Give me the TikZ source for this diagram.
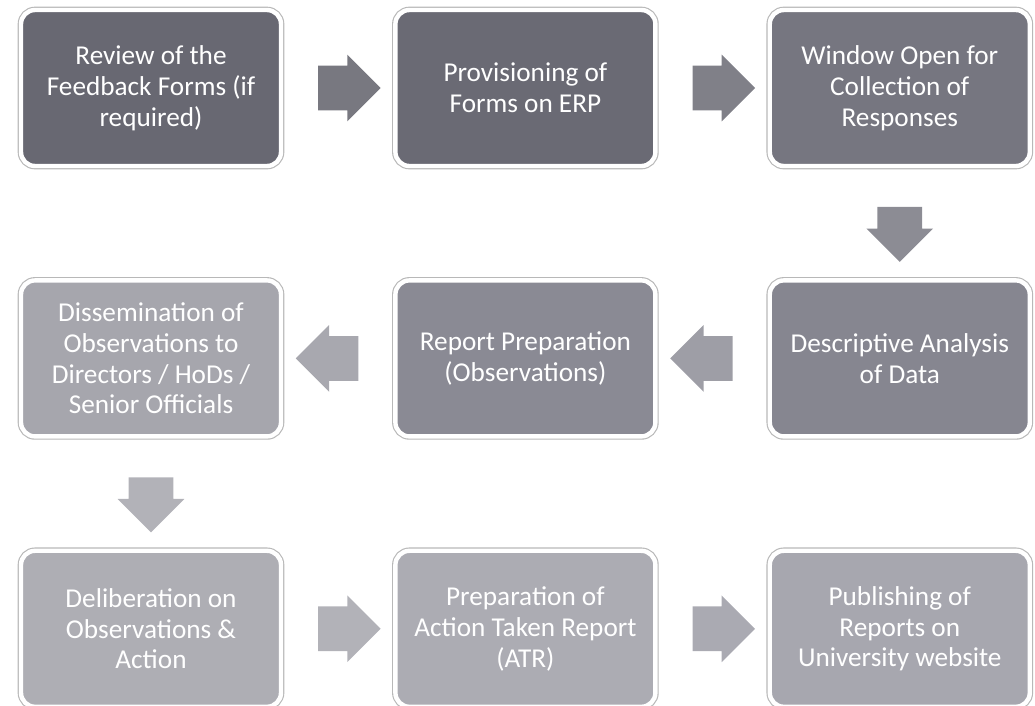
\documentclass[tikz,border=0pt]{standalone}
\usepackage{fontspec}
\setmainfont{Carlito}
\usetikzlibrary{positioning,shapes.arrows,calc}

\definecolor{c1}{RGB}{104,104,114}
\definecolor{c2}{RGB}{106,106,116}
\definecolor{c3}{RGB}{118,118,128}
\definecolor{c4}{RGB}{134,134,144}
\definecolor{c5}{RGB}{138,138,148}
\definecolor{c6}{RGB}{166,166,173}
\definecolor{c7}{RGB}{174,174,180}
\definecolor{c8}{RGB}{172,172,179}
\definecolor{c9}{RGB}{167,167,175}
\definecolor{a1}{RGB}{120,120,128}
\definecolor{a2}{RGB}{128,128,136}
\definecolor{a3}{RGB}{140,140,148}
\definecolor{a4}{RGB}{158,158,166}
\definecolor{a5}{RGB}{168,168,175}
\definecolor{a6}{RGB}{178,178,184}
\definecolor{a7}{RGB}{178,178,184}
\definecolor{a8}{RGB}{170,170,178}

\begin{document}
\begin{tikzpicture}[node distance = 2.2cm and 2.2cm]
  \tikzstyle{box}=[rounded corners=8pt, minimum width=5.2cm, minimum height=3.12cm,
                   align=center, text=white, font=\fontsize{15.5}{17.5}\selectfont,
                   draw=white, line width=2.5pt,
                   preaction={draw=black!28, line width=3.8pt}]
  \tikzstyle{arr}=[single arrow, draw=none, inner xsep=0pt, inner ysep=0.44cm,
                   single arrow head extend=0.22cm, minimum height=1.25cm]
  \tikzstyle{darr}=[arr, inner xsep=0.44cm, inner ysep=0pt, minimum height=1.1cm,
                    shape border rotate=270]
%  \tikzstyle{every node}=[draw=red]
  \useasboundingbox (0,0) rectangle (20.7,-14.1);
  % first row
  \node[box, fill=c1] (review) at (3.02,-1.76) {Review of the\\Feedback Forms (if\\required)};
  \node[box, fill=c2, right=of review] (erp) {Provisioning of\\Forms on ERP};
  \node[box, fill=c3, right=of erp] (window) {Window Open for\\Collection of\\Responses};
  % second row
  \node[box, fill=c4, below=of window] (analysis) {Descriptive Analysis\\of Data};
  \node[box, fill=c5, left=of analysis] (report) {Report Preparation\\(Observations)};
  \node[box, fill=c6, left=of report] (dissem) {Dissemination of\\Observations to\\Directors / HoDs /\\Senior Officials};
  % third row
  \node[box, fill=c7, below=of dissem] (delib) {Deliberation on\\Observations \&\\Action};
  \node[box, fill=c8, right=of delib] (atr) {Preparation of\\Action Taken Report\\(ATR)};
  \node[box, fill=c9, right=of atr] (publish) {Publishing of\\Reports on\\University website};
  % block arrows
  \node[arr, fill=a1] (ar1) at ($(review.east)!0.5!(erp.west)$) {};
  \node[arr, fill=a2] (ar2) at ($(erp.east)!0.5!(window.west)$) {};
  \node[darr, fill=a3] (ar3) at ($(window.south)!0.5!(analysis.north)$) {};
  \node[arr, fill=a4, shape border rotate=180] (ar4) at ($(analysis.west)!0.5!(report.east)$) {};
  \node[arr, fill=a5, shape border rotate=180] (ar5) at ($(report.west)!0.5!(dissem.east)$) {};
  \node[darr, fill=a6] (ar6) at ($(dissem.south)!0.5!(delib.north)$) {};
  \node[arr, fill=a7] (ar7) at ($(delib.east)!0.5!(atr.west)$) {};
  \node[arr, fill=a8] (ar8) at ($(atr.east)!0.5!(publish.west)$) {};
\end{tikzpicture}
\end{document}
